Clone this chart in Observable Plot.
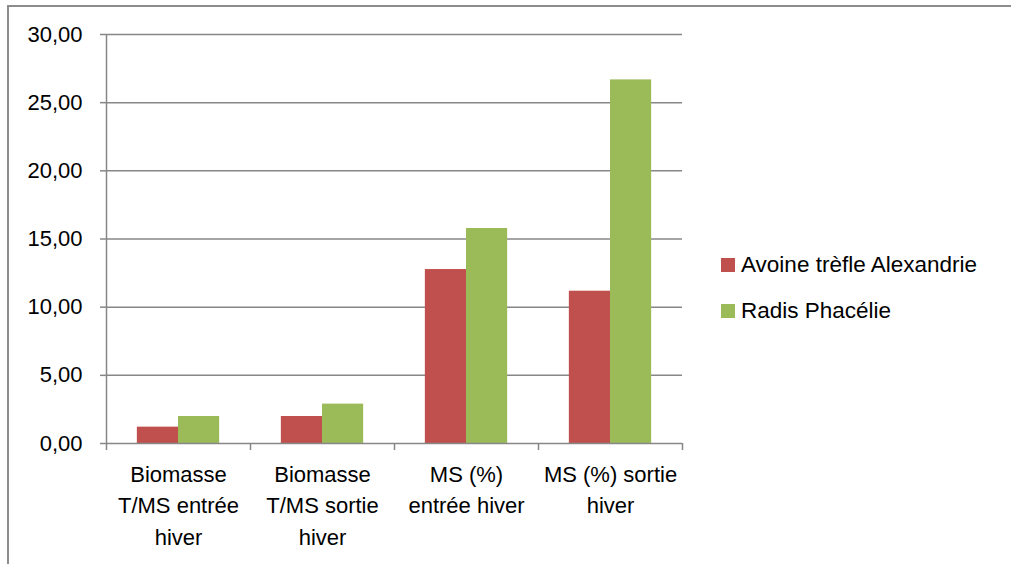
<!DOCTYPE html>
<html><head><meta charset="utf-8">
<script src="https://cdn.jsdelivr.net/npm/d3@7"></script>
<script src="https://cdn.jsdelivr.net/npm/@observablehq/plot@0.6"></script>
<style>
body{margin:0;background:#fff;font-family:"Liberation Sans",Arial,sans-serif;}
#wrap{position:relative;width:1011px;height:564px;overflow:hidden;}
#border{position:absolute;left:7px;top:5px;width:1100px;height:700px;border-top:2px solid #8c8c8c;border-left:2px solid #8c8c8c;}
#chart{position:absolute;left:0;top:0;}
#legend{position:absolute;left:721px;top:242px;font-size:22.5px;color:#000;}
.item{display:flex;align-items:center;height:46px;}
.sw{width:14px;height:14px;margin-right:6px;}
</style></head>
<body><div id="wrap"><div id="border"></div><div id="chart"></div><div id="legend"></div></div>
<script>
const categories = ["Biomasse\nT/MS entrée\nhiver", "Biomasse\nT/MS sortie\nhiver", "MS (%)\nentrée hiver", "MS (%) sortie\nhiver"];
const series = ["Avoine trèfle Alexandrie", "Radis Phacélie"];
const avoine = [1.20, 1.98, 12.76, 11.17];
const radis = [1.98, 2.89, 15.77, 26.67];
const yTicks = [0, 5, 10, 15, 20, 25, 30];
const colors = ["#C0504D", "#9BBB59"];

const W = 1011, H = 564;
const mL = 106, mR = 329, mT = 34, mB = 121;
const band = (W - mL - mR) / categories.length;
const barW = band / 3.5; // gap width 150%
const outer = (band - 2 * barW) / 2;

const rowsA = categories.map((c, i) => ({cat: c, v: avoine[i]}));
const rowsR = categories.map((c, i) => ({cat: c, v: radis[i]}));
const gray = "#878787";

const chart = Plot.plot({
  width: W, height: H,
  marginLeft: mL, marginRight: mR, marginTop: mT, marginBottom: mB,
  style: {fontFamily: '"Liberation Sans", Arial, sans-serif', fontSize: "22px", color: "#000", background: "transparent"},
  x: {domain: categories, padding: 0, axis: null, label: null},
  y: {domain: [0, 30], axis: null, label: null},
  marks: [
    Plot.gridY(yTicks.filter(d => d > 0), {stroke: gray, strokeOpacity: 1, strokeWidth: 1.5}),
    Plot.barY(rowsA, {x: "cat", y: "v", fill: colors[0], insetLeft: outer, insetRight: outer + barW}),
    Plot.barY(rowsR, {x: "cat", y: "v", fill: colors[1], insetLeft: outer + barW, insetRight: outer}),
    Plot.ruleY([0], {stroke: gray, strokeWidth: 1.5}),
    Plot.ruleX([categories[0]], {x: d => d, y1: 0, y2: 30, dx: -band / 2, stroke: gray, strokeWidth: 1.5}),
    Plot.ruleX(categories, {x: d => d, y1: 0, y2: 0, dx: -band / 2, insetBottom: -7, stroke: gray, strokeWidth: 1.5}),
    Plot.ruleX([categories[categories.length - 1]], {x: d => d, y1: 0, y2: 0, dx: band / 2, insetBottom: -7, stroke: gray, strokeWidth: 1.5}),
    Plot.axisY({ticks: yTicks, tickSize: 6, tickPadding: 18, stroke: gray, strokeWidth: 1.5, fill: "#000", label: null,
      tickFormat: d => d.toFixed(2).replace(".", ",")}),
    Plot.axisX({tickSize: 0, tickPadding: 16, fill: "#000", lineHeight: 1.43, label: null, tickFormat: d => d})
  ]
});
document.getElementById("chart").appendChild(chart);

const legend = document.getElementById("legend");
series.forEach((s, i) => {
  const item = document.createElement("div");
  item.className = "item";
  const sw = document.createElement("span");
  sw.className = "sw";
  sw.style.background = colors[i];
  const t = document.createElement("span");
  t.textContent = s;
  item.appendChild(sw); item.appendChild(t);
  legend.appendChild(item);
});
</script>
</body></html>
